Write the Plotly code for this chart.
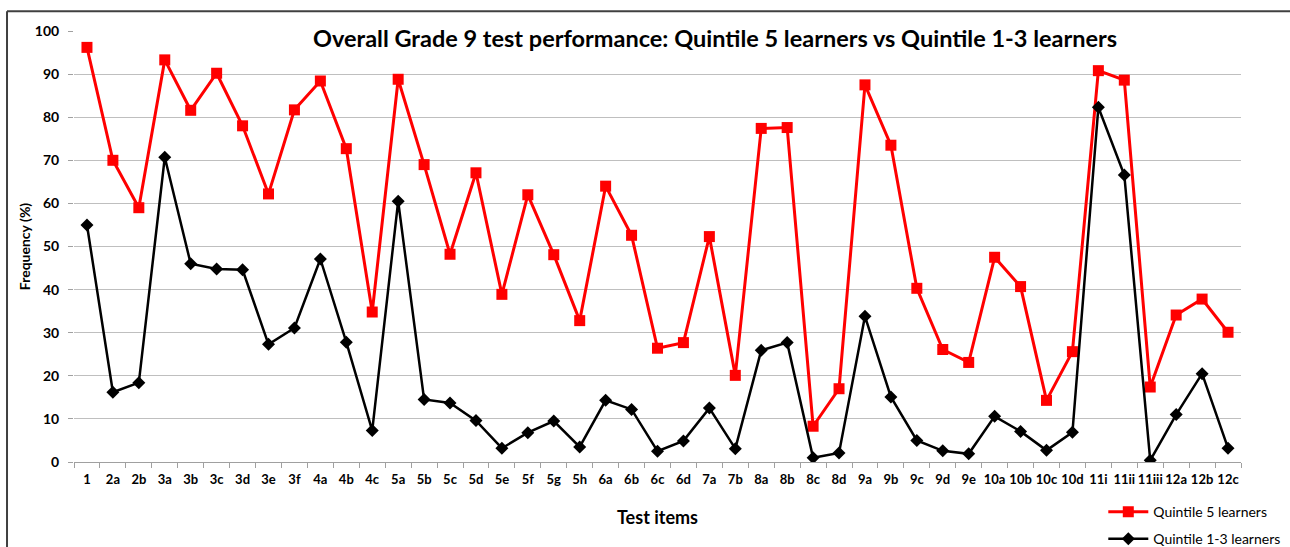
import plotly.graph_objects as go

items = ["1", "2a", "2b", "3a", "3b", "3c", "3d", "3e", "3f", "4a", "4b", "4c",
         "5a", "5b", "5c", "5d", "5e", "5f", "5g", "5h", "6a", "6b", "6c", "6d",
         "7a", "7b", "8a", "8b", "8c", "8d", "9a", "9b", "9c", "9d", "9e",
         "10a", "10b", "10c", "10d", "11i", "11ii", "11iii", "12a", "12b", "12c"]

quintile5 = [96.2, 70.0, 59.0, 93.3, 81.6, 90.2, 78.0, 62.2, 81.7, 88.4, 72.7, 34.8,
             88.8, 69.0, 48.2, 67.1, 38.9, 62.0, 48.1, 32.8, 64.0, 52.6, 26.4, 27.7,
             52.3, 20.1, 77.4, 77.6, 8.3, 17.0, 87.5, 73.5, 40.3, 26.1, 23.1,
             47.5, 40.7, 14.3, 25.6, 90.8, 88.6, 17.4, 34.1, 37.8, 30.1]

quintile13 = [55.0, 16.2, 18.4, 70.7, 46.0, 44.8, 44.6, 27.3, 31.1, 47.1, 27.8, 7.3,
              60.5, 14.5, 13.7, 9.6, 3.2, 6.8, 9.5, 3.5, 14.3, 12.2, 2.5, 4.9,
              12.5, 3.1, 25.9, 27.7, 1.0, 2.1, 33.8, 15.1, 5.0, 2.6, 1.9,
              10.6, 7.1, 2.7, 6.9, 82.3, 66.6, 0.4, 11.0, 20.5, 3.2]

FONT = "Lato"

fig = go.Figure()
fig.add_trace(go.Scatter(
    x=items, y=quintile5, mode="lines+markers", name="Quintile 5 learners",
    line=dict(color="#FF0000", width=3),
    marker=dict(symbol="square", size=11, color="#FF0000"),
    legendgroup="a"))
fig.add_trace(go.Scatter(
    x=items, y=quintile13, mode="lines+markers", name="Quintile 1-3 learners",
    line=dict(color="#000000", width=2.5),
    marker=dict(symbol="diamond", size=10, color="#000000"),
    legendgroup="b"))

fig.update_layout(
    width=1290, height=547,
    margin=dict(l=74, r=49, t=31, b=85, autoexpand=False),
    paper_bgcolor="white", plot_bgcolor="white",
    font=dict(family=FONT, color="#000000"),
    showlegend=True,
    legend=dict(x=0.882, xanchor="left", y=-0.079, yanchor="top",
                font=dict(family=FONT, size=14, color="#000000"),
                tracegroupgap=6, bgcolor="rgba(0,0,0,0)", itemwidth=40),
    xaxis=dict(type="category", range=[-0.5, 44.5], tickson="boundaries",
               ticks="outside", ticklen=5, tickcolor="#A0A0A0",
               showline=True, linecolor="#A0A0A0", linewidth=1,
               showgrid=False, tickangle=0, automargin=False,
               ticklabelstandoff=5,
               tickfont=dict(family=FONT, size=13, color="#000000", weight="bold"),
               title=dict(text="<b>Test items</b>", font=dict(family=FONT, size=18),
                          standoff=25)),
    yaxis=dict(range=[0, 100], dtick=10, ticks="outside", ticklen=5,
               tickcolor="#A0A0A0", showline=False, automargin=False,
               ticklabelstandoff=6,
               showgrid=True, gridcolor="#BFBFBF", gridwidth=1, zeroline=False,
               tickfont=dict(family=FONT, size=14, color="#000000", weight="bold"),
               title=dict(text="<b>Frequency (%)</b>", font=dict(family=FONT, size=14),
                          standoff=0)),
)

fig.add_annotation(
    text="<b>Overall Grade 9 test performance: Quintile 5 learners vs Quintile 1-3 learners</b>",
    xref="paper", yref="paper", x=0.549, y=0.984, xanchor="center", yanchor="middle",
    showarrow=False, bgcolor="white",
    font=dict(family=FONT, size=23.5, color="#000000"))

# chart-area frame (top and left edges)
fig.add_shape(type="line", xref="paper", yref="paper", x0=-0.0574, x1=1.1,
              y0=1.046, y1=1.046, layer="above", line=dict(color="#404040", width=2))
fig.add_shape(type="line", xref="paper", yref="paper", x0=-0.0574, x1=-0.0574,
              y0=1.046, y1=-0.25, layer="above", line=dict(color="#404040", width=2))

fig.write_html("out.html", config={"displayModeBar": False},
               post_script="document.body.style.margin='0px';")
